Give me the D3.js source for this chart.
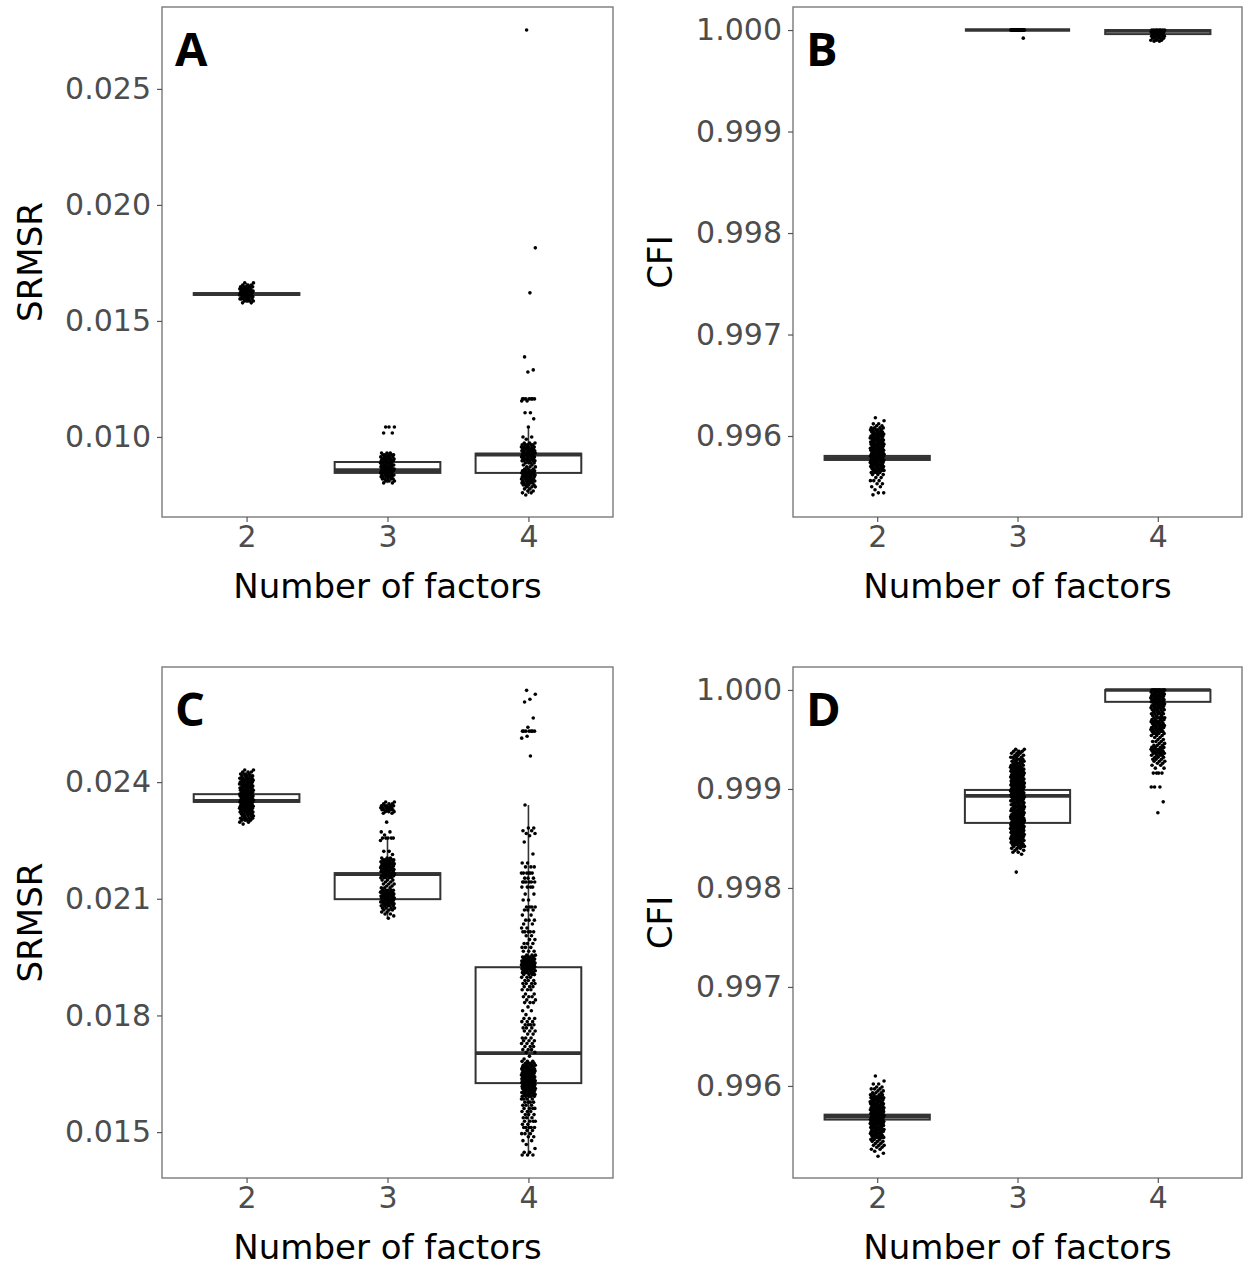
<!DOCTYPE html>
<html>
<head>
<meta charset="utf-8">
<script src="https://cdn.jsdelivr.net/npm/d3@7"></script>
<style>
  body { margin: 0; background: white; }
</style>
</head>
<body>
<div id="chart"></div>
<script>
//data
var factors = ["2", "3", "4"];

//A: SRMSR, first set
var aLow = [0.01578, 0.00801, 0.00754],
    aQ1 = [0.01612, 0.00845, 0.00845],
    aMed = [0.01616, 0.00857, 0.00924],
    aQ3 = [0.01620, 0.00892, 0.00928],
    aHigh = [0.01664, 0.00932, 0.01043];
var aPts2 = [[0.01664,2],[0.01655,3],[0.01647,5],[0.01638,7],[0.01629,8],[0.01621,8],[0.01612,8],[0.01604,7],[0.01595,6],[0.01586,4],[0.01578,2]];
var aPts3 = [[0.01043,3],[0.01017,2],[0.00931,3],[0.00923,5],[0.00914,6],[0.00905,6],[0.00897,6],[0.00888,6],[0.00879,7],[0.00871,7],[0.00862,7],[0.00854,7],[0.00845,7],[0.00836,6],[0.00828,6],[0.00819,5],[0.00810,3],[0.00802,2]];
var aPts4 = [[0.02754,1],[0.01815,1],[0.01621,1],[0.01345,1],[0.01289,1],[0.01280,1],[0.01164,7],[0.01155,2],[0.01104,2],[0.01078,1],[0.01043,1],[0.01000,2],[0.00990,1],[0.00974,3],[0.00966,5],[0.00957,6],[0.00948,7],[0.00940,7],[0.00931,7],[0.00923,7],[0.00914,7],[0.00905,6],[0.00897,6],[0.00888,4],[0.00879,2],[0.00871,3],[0.00862,3],[0.00854,6],[0.00845,7],[0.00836,7],[0.00828,7],[0.00819,6],[0.00810,6],[0.00802,5],[0.00793,4],[0.00785,3],[0.00776,2],[0.00767,2],[0.00759,2],[0.00750,1]];

//B: CFI, first set
var bLow = [0.99571, 1.00000, 0.99989],
    bQ1 = [0.995764, 1.00000, 0.99996],
    bMed = [0.995784, 1.00000, 0.99999],
    bQ3 = [0.995804, 1.00000, 1.00000],
    bHigh = [0.99586, 1.00000, 1.00000];
var bPts2 = [[0.99618,1],[0.99615,1],[0.99612,2],[0.99610,2],[0.99608,4],[0.99606,5],[0.99604,6],[0.99602,6],[0.99600,7],[0.99598,7],[0.99596,7],[0.99594,7],[0.99592,7],[0.99590,7],[0.99588,7],[0.99586,7],[0.99584,7],[0.99582,7],[0.99580,7],[0.99578,7],[0.99576,7],[0.99574,7],[0.99572,7],[0.99570,6],[0.99568,6],[0.99566,5],[0.99564,4],[0.99562,3],[0.99559,2],[0.99556,3],[0.99553,2],[0.99550,2],[0.99547,1],[0.99544,2],[0.99542,1]];
var bPts3 = [[1.00000,30],[0.99992,1]];
var bPts4 = [[1.00000,8],[0.99998,7],[0.99996,7],[0.99994,6],[0.99992,5],[0.99990,3],[0.99989,2]];

//C: SRMSR, second set
var cLow = [0.02323, 0.02050, 0.01441],
    cQ1 = [0.02349, 0.02099, 0.01626],
    cMed = [0.02352, 0.02163, 0.01703],
    cQ3 = [0.02369, 0.02166, 0.01924],
    cHigh = [0.02399, 0.02259, 0.02341];
var cPts2 = [[0.02431,2],[0.02426,3],[0.02421,4],[0.02416,5],[0.02410,6],[0.02405,7],[0.02400,7],[0.02395,7],[0.02390,7],[0.02385,7],[0.02379,7],[0.02374,7],[0.02369,7],[0.02364,7],[0.02359,7],[0.02354,7],[0.02349,7],[0.02343,7],[0.02338,7],[0.02333,7],[0.02328,7],[0.02323,6],[0.02318,6],[0.02313,5],[0.02307,5],[0.02302,4],[0.02297,2],[0.02292,1]];
var cPts3 = [[0.02349,2],[0.02344,3],[0.02339,5],[0.02334,6],[0.02329,5],[0.02324,3],[0.02320,2],[0.02297,1],[0.02272,2],[0.02264,1],[0.02256,5],[0.02250,1],[0.02222,2],[0.02214,1],[0.02205,3],[0.02200,5],[0.02195,6],[0.02190,7],[0.02185,7],[0.02180,7],[0.02175,7],[0.02170,7],[0.02164,7],[0.02159,6],[0.02154,5],[0.02148,3],[0.02143,2],[0.02138,3],[0.02133,2],[0.02128,3],[0.02122,5],[0.02117,6],[0.02112,7],[0.02107,7],[0.02102,7],[0.02097,7],[0.02092,7],[0.02087,6],[0.02082,5],[0.02076,4],[0.02071,3],[0.02066,2],[0.02061,2],[0.02056,1],[0.02050,1]];
var cPts4 = [[0.02636,1],[0.02626,1],[0.02613,1],[0.02606,1],[0.02565,1],[0.02541,1],[0.02531,7],[0.02518,1],[0.02513,1],[0.02467,1],
    [0.02341,1],[0.02282,2],[0.02275,2],[0.02268,2],[0.02262,1],[0.02246,1],[0.02215,1],[0.02192,2],[0.02182,3],[0.02166,6],[0.02153,3],[0.02143,6],[0.02130,4],[0.02112,2],[0.02097,2],[0.02079,4],[0.02071,3],[0.02058,2],[0.02045,3],
    [0.02035,2],[0.02025,2],[0.02015,5],[0.02005,2],[0.01995,2],[0.01985,3],[0.01975,3],[0.01965,3],[0.01955,3],
    [0.01950,5],[0.01945,7],[0.01940,8],[0.01935,8],[0.01930,8],[0.01925,8],[0.01920,7],[0.01915,6],[0.01910,5],[0.01905,4],
    [0.01898,3],[0.01890,3],[0.01882,4],[0.01874,3],[0.01866,3],[0.01855,2],[0.01848,3],[0.01840,2],[0.01833,3],[0.01822,1],[0.01812,2],[0.01802,1],
    [0.01792,3],[0.01784,3],[0.01776,4],[0.01768,3],[0.01760,3],[0.01752,2],[0.01742,3],[0.01735,3],[0.01728,3],[0.01720,3],[0.01712,3],[0.01705,2],[0.01695,1],[0.01688,1],
    [0.01682,3],[0.01677,4],[0.01672,5],[0.01667,6],[0.01662,7],[0.01657,8],[0.01652,8],[0.01647,8],[0.01642,8],[0.01637,8],[0.01632,8],[0.01627,8],[0.01622,8],[0.01617,8],[0.01612,8],[0.01607,7],[0.01602,7],[0.01597,6],[0.01592,5],
    [0.01585,4],[0.01577,4],[0.01569,3],[0.01561,4],[0.01553,3],[0.01545,3],[0.01537,3],[0.01528,4],[0.01520,2],[0.01512,5],[0.01504,2],[0.01496,3],[0.01488,2],
    [0.01478,2],[0.01468,1],[0.01458,1],[0.01448,2],[0.01441,3]];

//D: CFI, second set
var dLow = [0.99559, 0.99835, 0.99970],
    dQ1 = [0.99566, 0.998657, 0.99988],
    dMed = [0.99569, 0.99893, 1.00000],
    dQ3 = [0.99571, 0.99899, 1.00000],
    dHigh = [0.99578, 0.99940, 1.00000];
var dPts2 = [[0.99610,1],[0.99605,1],[0.99602,2],[0.99599,2],[0.99597,3],[0.99595,2],[0.99593,3],[0.99591,4],[0.99589,4],[0.99588,6],[0.99586,7],[0.99584,7],[0.99582,7],[0.99580,7],[0.99578,7],[0.99576,8],[0.99574,8],[0.99572,8],[0.99570,8],[0.99568,8],[0.99566,8],[0.99564,8],[0.99562,7],[0.99560,7],[0.99558,7],[0.99556,7],[0.99554,7],[0.99552,6],[0.99550,6],[0.99548,5],[0.99546,3],[0.99544,3],[0.99542,2],[0.99540,3],[0.99538,2],[0.99536,2],[0.99534,1],[0.99532,1],[0.99529,1]];
var dPts3 = [[0.99940,2],[0.99938,3],[0.99936,3],[0.99934,3],[0.99932,4],[0.99930,4],[0.99928,4],[0.99926,4],[0.99924,5],[0.99922,6],[0.99920,7],[0.99918,7],[0.99916,7],[0.99914,7],[0.99912,7],[0.99910,7],[0.99908,8],[0.99906,8],[0.99904,8],[0.99902,8],[0.99900,8],[0.99898,8],[0.99896,8],[0.99894,8],[0.99892,7],[0.99890,7],[0.99888,7],[0.99886,6],[0.99884,6],[0.99882,7],[0.99880,7],[0.99878,7],[0.99876,7],[0.99874,8],[0.99872,8],[0.99870,8],[0.99868,8],[0.99866,8],[0.99864,8],[0.99862,8],[0.99860,8],[0.99858,8],[0.99856,8],[0.99854,7],[0.99852,7],[0.99850,7],[0.99848,6],[0.99846,6],[0.99844,5],[0.99842,4],[0.99840,3],[0.99838,2],[0.99836,2],[0.99834,1],[0.99816,1]];
var dPts4 = [[1.00000,12],[0.99998,7],[0.99996,7],[0.99994,7],[0.99992,7],[0.99990,7],[0.99988,7],[0.99986,7],[0.99984,6],[0.99982,6],[0.99980,5],[0.99978,4],[0.99976,5],[0.99974,3],[0.99972,5],[0.99970,4],[0.99968,5],[0.99966,5],[0.99964,6],[0.99962,5],[0.99960,6],[0.99958,5],[0.99956,4],[0.99954,3],[0.99952,2],[0.99950,2],[0.99948,3],[0.99946,2],[0.99944,3],[0.99942,4],[0.99940,5],[0.99938,5],[0.99936,5],[0.99934,4],[0.99932,3],[0.99930,3],[0.99928,3],[0.99926,2],[0.99924,2],[0.99921,2],[0.99916,4],[0.99902,3],[0.99887,1],[0.99876,1]];

//axes
var srmsrTicksTop = [0.010, 0.015, 0.020, 0.025],
    srmsrTicksBottom = [0.015, 0.018, 0.021, 0.024],
    cfiTicks = [0.996, 0.997, 0.998, 0.999, 1.000];
var aDomain = [0.00655, 0.02853],
    bDomain = [0.995202, 1.000227],
    cDomain = [0.01382, 0.02696],
    dDomain = [0.99507, 1.000232];
//

var width = 1243,
    height = 1266;

var svg = d3.select("#chart").append("svg")
    .attr("width", width)
    .attr("height", height)
    .style("font-family", "DejaVu Sans");

var tickFont = 30,
    titleFont = 34,
    jitter = 0.05;

function drawPanel(p) {
    var g = svg.append("g");

    var x = d3.scalePoint()
        .domain(factors)
        .range([p.left, p.right])
        .padding(0.6);
    var step = x.step();

    var y = d3.scaleLinear()
        .domain(p.domain)
        .range([p.bottom, p.top]);

    var boxW = step * 0.75;

    //boxes
    factors.forEach(function (f, i) {
        var cx = x(f);
        g.append("line")
            .attr("x1", cx).attr("x2", cx)
            .attr("y1", y(p.q3[i])).attr("y2", y(p.high[i]))
            .style("stroke", "#333").style("stroke-width", 1.6);
        g.append("line")
            .attr("x1", cx).attr("x2", cx)
            .attr("y1", y(p.q1[i])).attr("y2", y(p.low[i]))
            .style("stroke", "#333").style("stroke-width", 1.6);
        g.append("rect")
            .attr("x", cx - boxW / 2)
            .attr("y", y(p.q3[i]))
            .attr("width", boxW)
            .attr("height", Math.max(0, y(p.q1[i]) - y(p.q3[i])))
            .style("fill", "white")
            .style("stroke", "#333")
            .style("stroke-width", 2);
        g.append("line")
            .attr("x1", cx - boxW / 2).attr("x2", cx + boxW / 2)
            .attr("y1", y(p.med[i])).attr("y2", y(p.med[i]))
            .style("stroke", "#333").style("stroke-width", 3.6);
    });

    //jittered points
    factors.forEach(function (f, i) {
        var flat = [];
        p.pts[i].forEach(function (d) {
            for (var k = 0; k < d[1]; k++) flat.push(d[0]);
        });
        g.selectAll(null)
            .data(flat)
            .enter().append("circle")
            .attr("cx", function (d, j) {
                var u = (j * 0.6180339887 + 0.37) % 1;
                return x(f) + (u - 0.5) * 2 * jitter * step;
            })
            .attr("cy", function (d) { return y(d); })
            .attr("r", 1.8)
            .style("fill", "black");
    });

    //frame
    g.append("rect")
        .attr("x", p.left)
        .attr("y", p.top)
        .attr("width", p.right - p.left)
        .attr("height", p.bottom - p.top)
        .style("fill", "none")
        .style("stroke", "#7a7a7a")
        .style("stroke-width", 1.4);

    //y axis
    var yAxis = g.append("g")
        .attr("transform", "translate(" + p.left + ",0)")
        .call(d3.axisLeft(y).tickValues(p.ticks).tickFormat(d3.format(".3f")).tickSize(5).tickPadding(6));
    yAxis.select(".domain").remove();
    yAxis.selectAll("line").style("stroke", "#555").style("stroke-width", 1.2);
    yAxis.selectAll("text")
        .style("font-size", tickFont + "px")
        .style("font-family", "DejaVu Sans")
        .style("fill", "#4d4d4d");

    //x axis
    var xAxis = g.append("g")
        .attr("transform", "translate(0," + p.bottom + ")")
        .call(d3.axisBottom(x).tickSize(5).tickPadding(4));
    xAxis.select(".domain").remove();
    xAxis.selectAll("line").style("stroke", "#555").style("stroke-width", 1.2);
    xAxis.selectAll("text")
        .style("font-size", tickFont + "px")
        .style("font-family", "DejaVu Sans")
        .style("fill", "#4d4d4d");

    //titles
    g.append("text")
        .attr("x", (p.left + p.right) / 2)
        .attr("y", p.bottom + 81)
        .attr("text-anchor", "middle")
        .style("font-size", titleFont + "px")
        .style("fill", "black")
        .text("Number of factors");

    g.append("text")
        .attr("transform", "translate(" + p.titleX + "," + (p.top + p.bottom) / 2 + ") rotate(-90)")
        .attr("text-anchor", "middle")
        .attr("dy", "0.35em")
        .style("font-size", titleFont + "px")
        .style("fill", "black")
        .text(p.yTitle);

    g.append("text")
        .attr("x", p.left + 13)
        .attr("y", p.top + 59)
        .style("font-family", "Open Sans")
        .style("font-weight", "bold")
        .style("font-size", "47px")
        .style("fill", "black")
        .text(p.letter);
}

drawPanel({left: 162, right: 613, top: 7, bottom: 517, domain: aDomain, ticks: srmsrTicksTop,
    low: aLow, q1: aQ1, med: aMed, q3: aQ3, high: aHigh, pts: [aPts2, aPts3, aPts4],
    yTitle: "SRMSR", titleX: 30, letter: "A"});
drawPanel({left: 793, right: 1242, top: 7, bottom: 517, domain: bDomain, ticks: cfiTicks,
    low: bLow, q1: bQ1, med: bMed, q3: bQ3, high: bHigh, pts: [bPts2, bPts3, bPts4],
    yTitle: "CFI", titleX: 660, letter: "B"});
drawPanel({left: 162, right: 613, top: 667, bottom: 1178, domain: cDomain, ticks: srmsrTicksBottom,
    low: cLow, q1: cQ1, med: cMed, q3: cQ3, high: cHigh, pts: [cPts2, cPts3, cPts4],
    yTitle: "SRMSR", titleX: 30, letter: "C"});
drawPanel({left: 793, right: 1242, top: 667, bottom: 1178, domain: dDomain, ticks: cfiTicks,
    low: dLow, q1: dQ1, med: dMed, q3: dQ3, high: dHigh, pts: [dPts2, dPts3, dPts4],
    yTitle: "CFI", titleX: 660, letter: "D"});
</script>
</body>
</html>
